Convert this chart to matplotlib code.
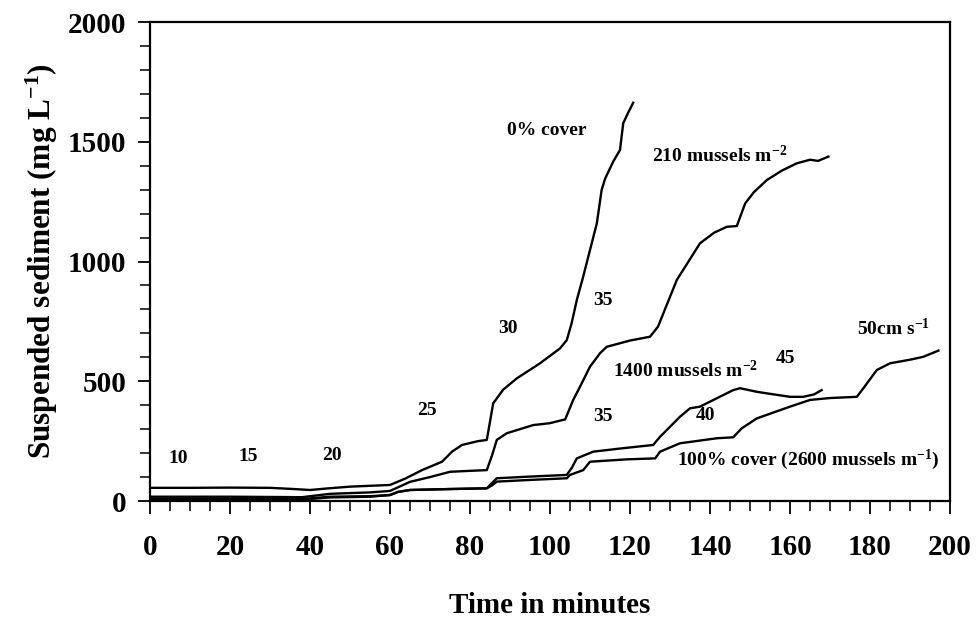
import matplotlib
matplotlib.use("Agg")
import matplotlib.pyplot as plt
from matplotlib.ticker import MultipleLocator

plt.rcParams['font.family'] = ['Liberation Serif', 'DejaVu Serif']
plt.rcParams['font.weight'] = 'bold'
plt.rcParams['mathtext.fontset'] = 'custom'
plt.rcParams['mathtext.rm'] = 'Liberation Serif:bold'
plt.rcParams['mathtext.it'] = 'Liberation Serif:italic:bold'
plt.rcParams['mathtext.bf'] = 'Liberation Serif:bold'

# Suspended sediment (mg/L) against time (minutes) for four mussel densities
t_cover0 = [0, 10, 20, 30, 36, 40, 44, 50, 60, 64, 68, 73, 75.5, 78, 82, 84.2, 85.8,
            88.3, 91.7, 97.5, 102.5, 104.2, 105.4, 106.7, 108.3, 110, 111.7, 112.9,
            113.8, 115.8, 117.5, 118.3, 119.5, 120.8]
v_cover0 = [55, 55, 56, 55, 50, 46, 52, 60, 67, 95, 129, 164, 206, 234, 250, 255, 408,
            465, 512, 575, 637, 672, 742, 839, 937, 1048, 1159, 1298,
            1347, 1417, 1466, 1577, 1620, 1663]

t_210 = [0, 20, 38, 45, 55, 60, 65, 70, 75, 80, 84.2, 85.5, 86.7, 89.2, 95.8, 100,
         103.8, 105.8, 107.5, 110, 112.5, 114.2, 120, 125, 127, 131.7, 137.5, 141,
         144.2, 146.7, 148.8, 151, 154.2, 158, 161.7, 165, 167, 169.6]
v_210 = [18, 18, 16, 30, 36, 42, 80, 100, 122, 126, 129, 190, 255, 283, 317, 325,
         341, 422, 477, 561, 617, 644, 670, 686, 728, 923, 1076, 1120,
         1145, 1148, 1243, 1290, 1340, 1380, 1410, 1425, 1420, 1438]

t_1400 = [0, 20, 38, 45, 55, 60, 62, 65, 75, 84.2, 85.5, 86.7, 95, 104.2, 105.5, 106.7,
          110.8, 118, 125.8, 127.5, 132.5, 135, 137.5, 141.7, 145.8, 147.5, 151.7,
          156, 160, 163.3, 166, 167.9]
v_1400 = [10, 10, 8, 18, 20, 25, 38, 46, 50, 53, 75, 95, 102, 109, 140, 178,
          206, 220, 234, 268, 352, 387, 394, 429, 463, 471, 456,
          445, 435, 435, 445, 463]

t_2600 = [0, 20, 38, 45, 55, 60, 62, 65, 75, 84.2, 85.5, 86.7, 95, 104.2, 105, 108.3,
          110, 119.2, 126.3, 127.5, 132.5, 141.7, 145.8, 147.9, 151.7, 160, 165, 170,
          176.7, 178.3, 181.7, 185, 190, 193.3, 197.1]
v_2600 = [8, 8, 6, 15, 18, 25, 38, 46, 50, 53, 65, 81, 88, 95, 109, 129,
          164, 174, 178, 206, 241, 262, 266, 303, 345, 394, 422, 430,
          435, 470, 547, 575, 590, 602, 628]

# Flow-speed numbers placed beside the curves
speed_x = [7.1, 24.6, 45.4, 69.2, 89.6, 113.3, 113.3, 138.8, 158.8]
speed_y = [178, 185, 192, 380, 721, 839, 352, 359, 596]
speed_text = ["10", "15", "20", "25", "30", "35", "35", "40", "45"]

# Curve names (left edge, baseline)
name_x = [89.2, 125.4, 115.8, 131.7, 176.7]
name_y = [1528, 1417, 519, 150, 693]
name_text = ["0% cover", "210 mussels m$^{-2}$", "1400 mussels m$^{-2}$",
             "100% cover (2600 mussels m$^{-1}$)", "50cm s$^{-1}$"]

fig = plt.figure(figsize=(9.79, 6.18), dpi=100)
ax = fig.add_axes([0.1532, 0.1893, 0.8172, 0.7751])

for t, v in [(t_cover0, v_cover0), (t_210, v_210), (t_1400, v_1400), (t_2600, v_2600)]:
    ax.plot(t, v, color='black', lw=1.7)

for x, y, s in zip(speed_x, speed_y, speed_text):
    ax.text(x, y, s, ha='center', va='center', fontsize=14, fontweight='bold')
for x, y, s in zip(name_x, name_y, name_text):
    ax.text(x, y, s, ha='left', va='baseline', fontsize=14, fontweight='bold')

ax.set_xlim(0, 200)
ax.set_ylim(0, 2000)
ax.xaxis.set_major_locator(MultipleLocator(20))
ax.xaxis.set_minor_locator(MultipleLocator(5))
ax.yaxis.set_major_locator(MultipleLocator(500))
ax.yaxis.set_minor_locator(MultipleLocator(100))
ax.tick_params(axis='both', which='major', direction='out', length=9, width=1.3,
               labelsize=21)
ax.tick_params(axis='x', which='major', pad=15)
ax.tick_params(axis='y', which='major', pad=8)
ax.tick_params(axis='both', which='minor', direction='out', length=7, width=1.1)
for lab in ax.get_xticklabels() + ax.get_yticklabels():
    lab.set_fontweight('bold')
for sp in ax.spines.values():
    sp.set_linewidth(1.6)

ax.set_xlabel("Time in minutes", fontsize=21, fontweight='bold', labelpad=22)
ax.set_ylabel("Suspended sediment (mg L$^{-1}$)", fontsize=22.5, fontweight='bold',
              labelpad=6)

fig.savefig("out.png", dpi=100)
